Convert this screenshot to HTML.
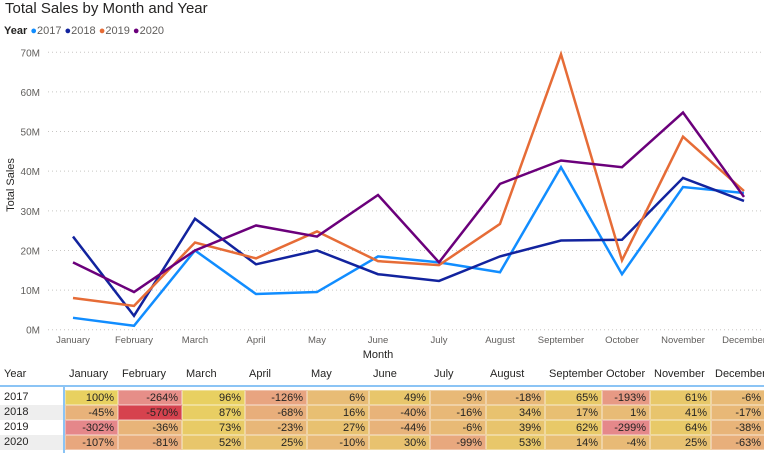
<!DOCTYPE html>
<html><head><meta charset="utf-8"><style>
body{margin:0;width:764px;height:453px;background:#fff;font-family:"Liberation Sans",sans-serif;overflow:hidden;position:relative}
.t{position:absolute}
</style></head><body>
<div class="t" style="left:5px;top:0px;font-size:15px;color:#252423">Total Sales by Month and Year</div>
<div class="t" style="left:4px;top:25px;font-size:11px;color:#605e5c;white-space:nowrap">
<b style="color:#252423">Year</b>
<span><span style="color:#118dff">●</span>2017</span>
<span><span style="color:#12239e">●</span>2018</span>
<span><span style="color:#e66c37">●</span>2019</span>
<span><span style="color:#6b007b">●</span>2020</span>
</div>
<svg id="chart" width="764" height="365" style="position:absolute;left:0;top:0"></svg>
<div id="tbl" style="position:absolute;left:0;top:362px;width:764px;height:91px"></div>
<script>
const months=["January","February","March","April","May","June","July","August","September","October","November","December"];
const years=["2017","2018","2019","2020"];
const colors=["#118dff","#12239e","#e66c37","#6b007b"];
const s2017=[3,1,20,9,9.5,18.5,17,14.5,41,14,36,34.5];
const s2018=[23.5,3.5,28,16.5,20,14,12.3,18.5,22.5,22.7,38.3,32.5];
const s2019=[8,6,22,18,24.8,17.3,16.3,26.7,69.5,17.5,48.7,35];
const s2020=[17,9.5,20,26.3,23.5,34,17,36.8,42.7,41,54.8,33.5];
const yTicks=[0,10,20,30,40,50,60,70];
const pct2017=[100,-264,96,-126,6,49,-9,-18,65,-193,61,-6];
const pct2018=[-45,-570,87,-68,16,-40,-16,34,17,1,41,-17];
const pct2019=[-302,-36,73,-23,27,-44,-6,39,62,-299,64,-38];
const pct2020=[-107,-81,52,25,-10,30,-99,53,14,-4,25,-63];
const NS="http://www.w3.org/2000/svg";
const svg=document.getElementById('chart');
const x=i=>73+i*61;
const y=v=>329.7-v*(277.4/70);
function mk(tag,attrs,parent){const e=document.createElementNS(NS,tag);for(const k in attrs)e.setAttribute(k,attrs[k]);(parent||svg).appendChild(e);return e;}
yTicks.forEach(v=>{
 const l=mk('line',{x1:48,x2:762,y1:y(v),y2:y(v),stroke:'#c8c6c4','stroke-dasharray':'1 3','stroke-width':1});
 
 
 const t=mk('text',{x:40,y:y(v)+4,'text-anchor':'end','font-size':10,fill:'#605e5c'});
 t.textContent=v+'M';
 
 
});
months.forEach((m,i)=>{
 const t=mk('text',{x:x(i),y:343,'text-anchor':'middle','font-size':9.5,fill:'#605e5c'});
 t.textContent=m;
 
 
});
const xt=mk('text',{x:378,y:358,'text-anchor':'middle','font-size':11,fill:'#252423'});xt.textContent='Month';


const yt=mk('text',{x:0,y:0,'text-anchor':'middle','font-size':11,fill:'#252423',transform:'translate(14,185) rotate(-90)'});yt.textContent='Total Sales';


[s2017,s2018,s2019,s2020].forEach((s,k)=>{
 const p=mk('polyline',{points:s.map((v,i)=>x(i)+','+y(v)).join(' '),fill:'none',stroke:colors[k],'stroke-width':2.5,'stroke-linejoin':'miter'});
 
 
});
// table
const edges=[0,64,117,181,244,306,368,429,485,544,601,649,710,764];
const tbl=document.getElementById('tbl');
function cell(l,w,t,h,txt,st){const d=document.createElement('div');d.className='t';d.style.cssText=`left:${l}px;top:${t}px;width:${w}px;height:${h}px;font-size:11px;line-height:${h}px;color:#252423;box-sizing:border-box;white-space:nowrap;`+(st||'');d.textContent=txt;tbl.appendChild(d);return d;}
const hy=cell(4,60,4,16,'Year','color:#252423');


months.forEach((m,i)=>{const d=cell(edges[i+1]+3,edges[i+2]-edges[i+1],4,16,m,'text-align:left;padding-left:2px');
 
 });
const ln=document.createElement('div');ln.className='t';ln.style.cssText='left:0;top:23px;width:764px;height:2px;background:#8bc4f5';tbl.appendChild(ln);
const vl=document.createElement('div');vl.className='t';vl.style.cssText='left:63px;top:23px;width:2px;height:68px;background:#8bc4f5';tbl.appendChild(vl);
function lerp(a,b,t){return a.map((v,i)=>Math.round(v+(b[i]-v)*t));}
const stops=[[-570,[214,66,78]],[-300,[229,136,138]],[-100,[232,168,126]],[0,[232,187,118]],[100,[232,209,96]]];
function col(v){for(let i=0;i<stops.length-1;i++){if(v<=stops[i+1][0]){const t=(v-stops[i][0])/(stops[i+1][0]-stops[i][0]);return 'rgb('+lerp(stops[i][1],stops[i+1][1],Math.max(0,t)).join(',')+')';}}return 'rgb(232,209,96)';}
[pct2017,pct2018,pct2019,pct2020].forEach((r,k)=>{
 const top=28+k*15;
 const yc=cell(0,63,top,15,years[k],'padding-left:4px;'+(k%2?'background:#eeeeee':''));
 
 
 r.forEach((v,i)=>{const d=cell(edges[i+1]+1,edges[i+2]-edges[i+1],top,15,v+'%','text-align:right;padding-right:3px;border:1px solid rgba(255,255,255,0.35);background:'+col(v));
  
  });
});
</script>
</body></html>
